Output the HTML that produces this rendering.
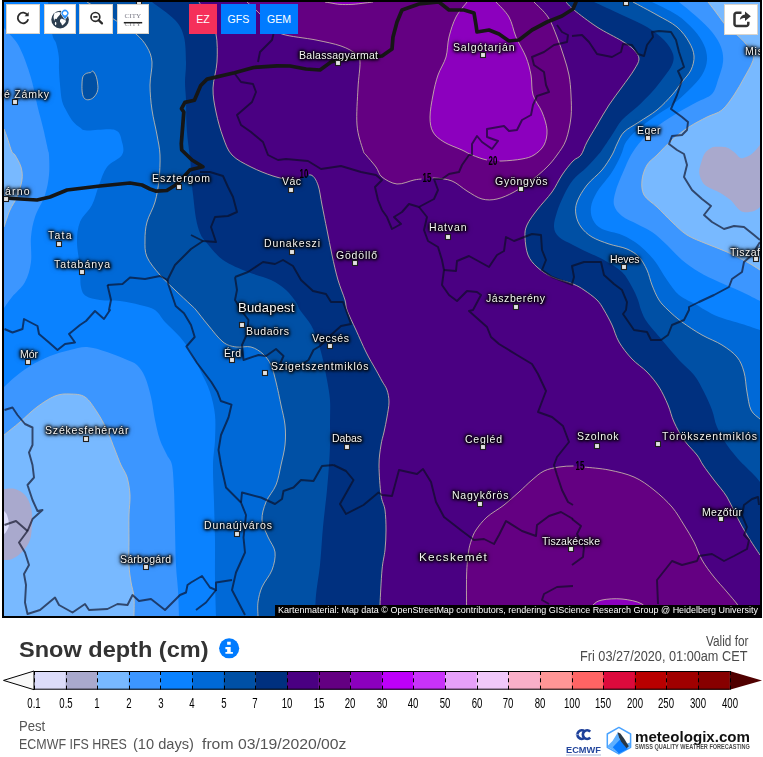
<!DOCTYPE html>
<html><head><meta charset="utf-8"><title>Snow depth</title>
<style>
html,body{margin:0;padding:0;background:#fff;}
body{width:763px;height:757px;position:relative;overflow:hidden;font-family:"Liberation Sans",sans-serif;}
#map{position:absolute;left:0;top:0;}
.lb{position:absolute;will-change:transform;color:#f4f4f4;white-space:nowrap;line-height:1;font-family:"Liberation Sans",sans-serif;
 text-shadow:0 0 2px #000,0 0 3px #000,0 0 3px #000,0 0 4px #000,1px 1px 3px #000,0 0 5px #000,0 0 6px rgba(0,0,0,.7);}
.btn{position:absolute;top:4px;height:30px;background:#fff;box-sizing:border-box;border:1px solid #d9d4cc;}
.mb{position:absolute;top:4px;height:30px;color:#fff;font-size:10.6px;line-height:30.5px;text-align:center;}
.ll{position:absolute;top:695.3px;width:40px;text-align:center;font-size:14.7px;color:#000;transform:scaleX(.655);line-height:16px;}
.cl{position:absolute;width:20px;text-align:center;font-size:12.3px;line-height:13px;color:#000;transform:scaleX(.64);font-weight:bold;}
.f{position:absolute;white-space:nowrap;line-height:1;transform-origin:0 0;}
.t{position:absolute;white-space:nowrap;color:#4a4a4a;font-size:13.5px;line-height:16px;}
#attr{position:absolute;left:275px;top:605px;width:485px;height:11px;background:#000;color:#fff;font-size:9.3px;line-height:11px;white-space:nowrap;overflow:hidden;}
#attr span{display:inline-block;transform-origin:0 50%;padding-left:3px;}
</style></head><body>
<svg id="map" width="763" height="757" viewBox="0 0 763 757">
<defs><mask id="lm" maskUnits="userSpaceOnUse" x="0" y="0" width="763" height="620"><rect x="0" y="0" width="763" height="620" fill="#fff"/><rect x="298" y="168" width="11" height="12" fill="#000"/><rect x="421.5" y="172" width="11" height="12" fill="#000"/><rect x="487" y="155" width="12.5" height="12" fill="#000"/><rect x="573.5" y="460" width="11.5" height="12" fill="#000"/></mask><clipPath id="cp"><rect x="4" y="2" width="756" height="614"/></clipPath></defs>
<rect x="2" y="0" width="760" height="618" fill="#000"/>
<g clip-path="url(#cp)">
<rect x="4" y="2" width="756" height="614" fill="#4a0082"/>
<path d="M199.0 2.0C200.5 4.5 205.2 11.7 208.0 17.0C210.8 22.3 214.5 26.5 216.0 34.0C217.5 41.5 217.5 53.0 217.0 62.0C216.5 71.0 213.2 79.7 213.0 88.0C212.8 96.3 214.3 103.8 216.0 112.0C217.7 120.2 220.3 129.8 223.0 137.0C225.7 144.2 227.3 150.0 232.0 155.0C236.7 160.0 244.2 163.5 251.0 167.0C257.8 170.5 266.3 173.8 273.0 176.0C279.7 178.2 286.5 179.5 291.0 180.0C295.5 180.5 296.7 179.8 300.0 179.0C303.3 178.2 308.0 174.0 311.0 175.0C314.0 176.0 316.2 180.0 318.0 185.0C319.8 190.0 320.5 197.5 322.0 205.0C323.5 212.5 325.3 221.7 327.0 230.0C328.7 238.3 330.2 246.7 332.0 255.0C333.8 263.3 335.8 272.5 338.0 280.0C340.2 287.5 343.5 295.0 345.0 300.0C346.5 305.0 345.2 305.0 347.0 310.0C348.8 315.0 352.8 323.0 356.0 330.0C359.2 337.0 362.7 345.3 366.0 352.0C369.3 358.7 373.3 365.2 376.0 370.0C378.7 374.8 380.2 377.7 382.0 381.0C383.8 384.3 385.8 386.5 387.0 390.0C388.2 393.5 389.0 397.5 389.0 402.0C389.0 406.5 387.8 412.0 387.0 417.0C386.2 422.0 385.0 427.3 384.0 432.0C383.0 436.7 381.8 439.5 381.0 445.0C380.2 450.5 379.0 456.7 379.0 465.0C379.0 473.3 380.0 487.5 381.0 495.0C382.0 502.5 384.2 504.2 385.0 510.0C385.8 515.8 386.0 523.3 386.0 530.0C386.0 536.7 385.7 543.3 385.0 550.0C384.3 556.7 382.8 560.8 382.0 570.0C381.2 579.2 380.3 597.3 380.0 605.0C379.7 612.7 380.0 614.2 380.0 616.0L4.0 616.0L4.0 2.0Z" fill="#00307f"/>
<path d="M152.0 2.0C155.8 5.0 169.7 14.2 175.0 20.0C180.3 25.8 182.2 30.0 184.0 37.0C185.8 44.0 185.8 54.5 186.0 62.0C186.2 69.5 185.0 75.7 185.0 82.0C185.0 88.3 185.8 92.8 186.0 100.0C186.2 107.2 186.1 117.3 186.5 125.0C186.9 132.7 187.8 140.0 188.5 146.0C189.2 152.0 189.9 155.7 190.4 161.0C190.9 166.3 190.8 172.2 191.3 178.0C191.8 183.8 192.4 189.3 193.2 196.0C194.0 202.7 194.8 211.8 195.9 218.0C197.0 224.2 198.3 229.0 200.0 233.0C201.7 237.0 202.2 237.5 206.0 242.0C209.8 246.5 216.0 255.0 223.0 260.0C230.0 265.0 240.0 268.7 248.0 272.0C256.0 275.3 264.7 277.0 271.0 280.0C277.3 283.0 281.8 286.3 286.0 290.0C290.2 293.7 293.7 298.7 296.0 302.0C298.3 305.3 297.5 306.2 300.0 310.0C302.5 313.8 308.0 319.7 311.0 325.0C314.0 330.3 316.0 336.2 318.0 342.0C320.0 347.8 321.5 353.7 323.0 360.0C324.5 366.3 325.8 373.3 327.0 380.0C328.2 386.7 329.5 393.0 330.0 400.0C330.5 407.0 330.0 414.5 330.0 422.0C330.0 429.5 330.2 437.8 330.0 445.0C329.8 452.2 329.5 457.5 329.0 465.0C328.5 472.5 328.0 479.7 327.0 490.0C326.0 500.3 324.2 514.5 323.0 527.0C321.8 539.5 321.2 553.7 320.0 565.0C318.8 576.3 316.8 586.5 316.0 595.0C315.2 603.5 315.2 612.5 315.0 616.0L4.0 616.0L4.0 2.0Z" fill="#0050a5"/>
<path d="M87.0 2.0C89.2 3.3 95.3 7.0 100.0 10.0C104.7 13.0 109.0 16.0 115.0 20.0C121.0 24.0 130.7 29.5 136.0 34.0C141.3 38.5 144.3 42.3 147.0 47.0C149.7 51.7 151.5 55.7 152.0 62.0C152.5 68.3 150.0 77.0 150.0 85.0C150.0 93.0 150.8 101.7 152.0 110.0C153.2 118.3 155.7 127.5 157.0 135.0C158.3 142.5 159.7 147.5 160.0 155.0C160.3 162.5 159.8 172.2 159.0 180.0C158.2 187.8 157.0 195.0 155.0 202.0C153.0 209.0 148.7 215.7 147.0 222.0C145.3 228.3 145.0 234.2 145.0 240.0C145.0 245.8 144.5 251.2 147.0 257.0C149.5 262.8 155.3 269.5 160.0 275.0C164.7 280.5 169.8 285.0 175.0 290.0C180.2 295.0 187.5 301.7 191.0 305.0C194.5 308.3 193.2 306.7 196.0 310.0C198.8 313.3 203.5 319.7 208.0 325.0C212.5 330.3 218.3 338.3 223.0 342.0C227.7 345.7 231.3 346.2 236.0 347.0C240.7 347.8 246.5 345.8 251.0 347.0C255.5 348.2 259.7 351.0 263.0 354.0C266.3 357.0 268.8 360.3 271.0 365.0C273.2 369.7 274.3 375.3 276.0 382.0C277.7 388.7 279.5 397.8 281.0 405.0C282.5 412.2 284.3 418.3 285.0 425.0C285.7 431.7 285.7 438.3 285.0 445.0C284.3 451.7 282.5 458.3 281.0 465.0C279.5 471.7 278.5 478.8 276.0 485.0C273.5 491.2 268.3 496.2 266.0 502.0C263.7 507.8 261.7 514.2 262.0 520.0C262.3 525.8 265.8 531.7 268.0 537.0C270.2 542.3 274.3 546.5 275.0 552.0C275.7 557.5 274.2 564.2 272.0 570.0C269.8 575.8 264.3 581.7 262.0 587.0C259.7 592.3 258.7 597.2 258.0 602.0C257.3 606.8 258.0 613.7 258.0 616.0L4.0 616.0L4.0 2.0Z" fill="#0069d7"/>
<path d="M48.0 2.0C48.7 7.3 50.9 27.1 52.2 34.0C53.6 40.9 55.0 39.5 56.1 43.2C57.2 46.9 58.3 52.0 58.8 56.4C59.3 60.8 58.8 64.8 59.0 69.6C59.2 74.4 59.6 80.2 60.1 85.5C60.6 90.8 61.0 97.0 62.1 101.3C63.2 105.5 64.7 107.6 66.5 111.0C68.3 114.4 70.8 118.8 73.0 121.5C75.2 124.2 77.7 126.0 80.0 127.5C82.3 129.0 81.2 130.1 87.0 130.5C92.8 130.9 109.2 128.1 115.0 130.0C120.8 131.9 120.8 137.8 122.0 142.0C123.2 146.2 124.5 150.8 122.0 155.0C119.5 159.2 110.8 162.0 107.0 167.0C103.2 172.0 101.5 178.7 99.0 185.0C96.5 191.3 95.2 198.8 92.0 205.0C88.8 211.2 82.5 215.8 80.0 222.0C77.5 228.2 77.0 234.5 77.0 242.0C77.0 249.5 79.3 259.5 80.0 267.0C80.7 274.5 80.0 282.2 81.0 287.0C82.0 291.8 82.8 293.8 86.0 296.0C89.2 298.2 94.3 299.2 100.0 300.0C105.7 300.8 113.3 300.2 120.0 301.0C126.7 301.8 134.2 303.5 140.0 305.0C145.8 306.5 150.8 307.2 155.0 310.0C159.2 312.8 160.8 317.5 165.0 322.0C169.2 326.5 175.7 332.0 180.0 337.0C184.3 342.0 187.5 346.2 191.0 352.0C194.5 357.8 197.8 365.3 201.0 372.0C204.2 378.7 207.7 384.8 210.0 392.0C212.3 399.2 214.2 407.0 215.0 415.0C215.8 423.0 215.3 431.7 215.0 440.0C214.7 448.3 213.2 454.7 213.0 465.0C212.8 475.3 213.7 489.5 214.0 502.0C214.3 514.5 214.8 527.5 215.0 540.0C215.2 552.5 214.8 564.3 215.0 577.0C215.2 589.7 215.8 609.5 216.0 616.0L4.0 616.0L4.0 2.0Z" fill="#0a82ff"/>
<path d="M4.0 28.0C5.1 29.2 8.4 32.8 10.6 35.3C12.8 37.8 15.2 40.1 17.2 43.2C19.2 46.3 20.6 49.4 22.5 53.8C24.4 58.2 26.6 64.3 28.4 69.6C30.1 74.9 31.6 79.8 33.0 85.5C34.4 91.2 35.7 98.3 37.0 104.0C38.3 109.7 39.9 115.5 41.0 119.8C42.1 124.1 42.4 125.0 43.6 130.0C44.8 135.0 47.1 145.8 48.0 150.0C48.9 154.2 48.8 150.8 49.0 155.0C49.2 159.2 49.7 168.3 49.0 175.0C48.3 181.7 47.3 188.0 45.0 195.0C42.7 202.0 37.3 210.0 35.0 217.0C32.7 224.0 31.7 229.5 31.0 237.0C30.3 244.5 32.0 254.5 31.0 262.0C30.0 269.5 28.2 276.2 25.0 282.0C21.8 287.8 15.5 292.7 12.0 297.0C8.5 301.3 5.3 306.2 4.0 308.0Z" fill="#3c96ff"/>
<path d="M4.0 387.0C5.8 385.3 10.7 380.5 15.0 377.0C19.3 373.5 24.2 369.5 30.0 366.0C35.8 362.5 43.3 358.7 50.0 356.0C56.7 353.3 63.8 351.5 70.0 350.0C76.2 348.5 80.8 346.7 87.0 347.0C93.2 347.3 100.7 350.0 107.0 352.0C113.3 354.0 120.0 356.8 125.0 359.0C130.0 361.2 133.7 362.0 137.0 365.0C140.3 368.0 142.7 371.7 145.0 377.0C147.3 382.3 149.3 389.8 151.0 397.0C152.7 404.2 153.5 412.8 155.0 420.0C156.5 427.2 158.0 434.2 160.0 440.0C162.0 445.8 165.0 450.8 167.0 455.0C169.0 459.2 170.8 459.2 172.0 465.0C173.2 470.8 173.5 479.7 174.0 490.0C174.5 500.3 174.7 514.5 175.0 527.0C175.3 539.5 175.5 554.5 176.0 565.0C176.5 575.5 177.5 581.5 178.0 590.0C178.5 598.5 178.8 611.7 179.0 616.0L4.0 616.0Z" fill="#3c96ff"/>
<path d="M4.0 129.0C4.7 130.8 6.7 136.2 8.0 140.0C9.3 143.8 10.8 149.5 12.0 152.0C13.2 154.5 13.5 152.5 15.0 155.0C16.5 157.5 19.8 162.8 21.0 167.0C22.2 171.2 22.7 175.0 22.0 180.0C21.3 185.0 19.0 192.0 17.0 197.0C15.0 202.0 12.2 205.0 10.0 210.0C7.8 215.0 5.0 224.2 4.0 227.0Z" fill="#78b9ff"/>
<path d="M4.0 435.0C6.7 432.8 14.5 426.7 20.0 422.0C25.5 417.3 31.2 411.3 37.0 407.0C42.8 402.7 49.5 398.2 55.0 396.0C60.5 393.8 65.0 393.8 70.0 394.0C75.0 394.2 80.5 394.0 85.0 397.0C89.5 400.0 93.3 406.5 97.0 412.0C100.7 417.5 104.0 423.7 107.0 430.0C110.0 436.3 112.7 444.2 115.0 450.0C117.3 455.8 119.0 460.5 121.0 465.0C123.0 469.5 125.5 472.0 127.0 477.0C128.5 482.0 129.7 488.7 130.0 495.0C130.3 501.3 129.2 507.5 129.0 515.0C128.8 522.5 129.0 531.7 129.0 540.0C129.0 548.3 128.7 558.0 129.0 565.0C129.3 572.0 130.2 576.7 131.0 582.0C131.8 587.3 133.5 591.3 134.0 597.0C134.5 602.7 134.0 612.8 134.0 616.0L4.0 616.0Z" fill="#78b9ff"/>
<path d="M4.0 489.0C5.8 489.0 11.5 488.0 15.0 489.0C18.5 490.0 22.3 492.0 25.0 495.0C27.7 498.0 29.8 502.5 31.0 507.0C32.2 511.5 32.2 516.5 32.0 522.0C31.8 527.5 31.7 535.0 30.0 540.0C28.3 545.0 25.0 548.8 22.0 552.0C19.0 555.2 15.0 557.7 12.0 559.0C9.0 560.3 5.3 559.8 4.0 560.0Z" fill="#a9a9cd"/>
<path d="M4.0 511.0C4.5 511.7 6.2 512.7 7.0 515.0C7.8 517.3 9.2 522.2 9.0 525.0C8.8 527.8 6.8 530.5 6.0 532.0C5.2 533.5 4.3 533.7 4.0 534.0Z" fill="#dcdcfa"/>
<path d="M93.0 71.2C93.9 71.8 95.2 73.9 96.0 76.0C96.8 78.1 97.5 81.5 97.7 84.0C98.0 86.5 98.1 88.8 97.5 91.0C96.9 93.2 95.4 95.5 94.0 97.0C92.6 98.5 90.6 99.5 89.0 99.7C87.4 100.0 85.6 99.6 84.5 98.5C83.4 97.4 82.7 95.4 82.3 93.0C81.9 90.6 81.9 86.8 82.0 84.0C82.1 81.2 82.2 78.3 83.0 76.5C83.8 74.7 85.2 74.0 86.5 73.3C87.8 72.6 89.4 72.9 90.5 72.6C91.6 72.2 92.1 70.6 93.0 71.2Z" fill="#0050a5"/>
<path d="M566.0 2.0C567.3 3.3 568.8 5.8 574.0 10.0C579.2 14.2 589.0 21.8 597.0 27.0C605.0 32.2 615.8 37.2 622.0 41.0C628.2 44.8 631.2 47.0 634.0 50.0C636.8 53.0 639.0 55.7 639.0 59.0C639.0 62.3 636.8 65.3 634.0 70.0C631.2 74.7 626.2 81.2 622.0 87.0C617.8 92.8 613.2 98.7 609.0 105.0C604.8 111.3 600.7 118.8 597.0 125.0C593.3 131.2 589.7 137.0 587.0 142.0C584.3 147.0 583.3 151.8 581.0 155.0C578.7 158.2 576.2 157.7 573.0 161.0C569.8 164.3 565.5 169.8 562.0 175.0C558.5 180.2 556.2 186.2 552.0 192.0C547.8 197.8 541.2 204.5 537.0 210.0C532.8 215.5 529.0 220.5 527.0 225.0C525.0 229.5 524.8 232.0 525.0 237.0C525.2 242.0 526.0 250.0 528.0 255.0C530.0 260.0 533.0 263.3 537.0 267.0C541.0 270.7 546.0 274.2 552.0 277.0C558.0 279.8 567.7 281.8 573.0 284.0C578.3 286.2 580.0 287.3 584.0 290.0C588.0 292.7 593.7 296.7 597.0 300.0C600.3 303.3 601.5 305.8 604.0 310.0C606.5 314.2 609.5 319.7 612.0 325.0C614.5 330.3 615.7 336.3 619.0 342.0C622.3 347.7 627.3 354.0 632.0 359.0C636.7 364.0 642.5 367.3 647.0 372.0C651.5 376.7 655.5 381.5 659.0 387.0C662.5 392.5 665.5 399.2 668.0 405.0C670.5 410.8 671.3 416.2 674.0 422.0C676.7 427.8 680.2 434.5 684.0 440.0C687.8 445.5 693.8 450.8 697.0 455.0C700.2 459.2 700.2 460.8 703.0 465.0C705.8 469.2 710.0 474.7 714.0 480.0C718.0 485.3 723.2 490.8 727.0 497.0C730.8 503.2 733.7 510.7 737.0 517.0C740.3 523.3 743.2 528.7 747.0 535.0C750.8 541.3 757.8 551.7 760.0 555.0L760.0 2.0Z" fill="#00307f"/>
<path d="M594.0 2.0C598.7 4.2 613.2 10.8 622.0 15.0C630.8 19.2 640.0 22.8 647.0 27.0C654.0 31.2 659.7 35.5 664.0 40.0C668.3 44.5 671.7 49.8 673.0 54.0C674.3 58.2 673.5 61.2 672.0 65.0C670.5 68.8 667.3 72.5 664.0 77.0C660.7 81.5 656.5 87.0 652.0 92.0C647.5 97.0 642.0 102.3 637.0 107.0C632.0 111.7 626.2 115.3 622.0 120.0C617.8 124.7 615.3 130.0 612.0 135.0C608.7 140.0 604.3 146.7 602.0 150.0C599.7 153.3 600.5 152.2 598.0 155.0C595.5 157.8 591.2 162.8 587.0 167.0C582.8 171.2 576.8 175.3 573.0 180.0C569.2 184.7 566.7 189.7 564.0 195.0C561.3 200.3 558.7 206.7 557.0 212.0C555.3 217.3 553.7 222.8 554.0 227.0C554.3 231.2 555.8 234.0 559.0 237.0C562.2 240.0 568.3 242.5 573.0 245.0C577.7 247.5 581.8 249.5 587.0 252.0C592.2 254.5 598.2 256.7 604.0 260.0C609.8 263.3 617.3 267.5 622.0 272.0C626.7 276.5 629.3 282.3 632.0 287.0C634.7 291.7 636.5 296.2 638.0 300.0C639.5 303.8 639.5 306.3 641.0 310.0C642.5 313.7 643.5 317.0 647.0 322.0C650.5 327.0 656.7 333.7 662.0 340.0C667.3 346.3 673.7 354.2 679.0 360.0C684.3 365.8 689.8 369.7 694.0 375.0C698.2 380.3 701.0 386.2 704.0 392.0C707.0 397.8 709.8 404.2 712.0 410.0C714.2 415.8 714.5 421.2 717.0 427.0C719.5 432.8 723.3 439.5 727.0 445.0C730.7 450.5 736.2 456.7 739.0 460.0C741.8 463.3 741.5 462.5 744.0 465.0C746.5 467.5 751.3 472.2 754.0 475.0C756.7 477.8 759.0 480.8 760.0 482.0L760.0 2.0Z" fill="#0050a5"/>
<path d="M633.0 2.0C637.0 4.2 649.7 10.8 657.0 15.0C664.3 19.2 671.7 22.5 677.0 27.0C682.3 31.5 686.2 37.2 689.0 42.0C691.8 46.8 693.7 51.3 694.0 56.0C694.3 60.7 693.0 65.7 691.0 70.0C689.0 74.3 685.2 77.8 682.0 82.0C678.8 86.2 676.2 90.3 672.0 95.0C667.8 99.7 662.5 105.5 657.0 110.0C651.5 114.5 644.5 118.3 639.0 122.0C633.5 125.7 627.7 128.3 624.0 132.0C620.3 135.7 619.0 140.2 617.0 144.0C615.0 147.8 614.5 150.7 612.0 155.0C609.5 159.3 606.2 165.0 602.0 170.0C597.8 175.0 591.2 179.7 587.0 185.0C582.8 190.3 578.8 197.0 577.0 202.0C575.2 207.0 575.3 210.8 576.0 215.0C576.7 219.2 578.3 223.3 581.0 227.0C583.7 230.7 587.3 234.2 592.0 237.0C596.7 239.8 603.2 242.0 609.0 244.0C614.8 246.0 622.0 246.8 627.0 249.0C632.0 251.2 635.7 253.5 639.0 257.0C642.3 260.5 644.8 265.3 647.0 270.0C649.2 274.7 650.0 280.0 652.0 285.0C654.0 290.0 656.3 295.8 659.0 300.0C661.7 304.2 664.2 306.3 668.0 310.0C671.8 313.7 676.3 317.8 682.0 322.0C687.7 326.2 695.3 331.2 702.0 335.0C708.7 338.8 716.2 341.3 722.0 345.0C727.8 348.7 733.3 352.5 737.0 357.0C740.7 361.5 742.3 366.2 744.0 372.0C745.7 377.8 745.8 385.7 747.0 392.0C748.2 398.3 748.8 405.5 751.0 410.0C753.2 414.5 758.5 417.5 760.0 419.0L760.0 2.0Z" fill="#0069d7"/>
<path d="M652.0 2.0C656.2 4.2 670.0 10.3 677.0 15.0C684.0 19.7 689.5 25.0 694.0 30.0C698.5 35.0 701.8 40.0 704.0 45.0C706.2 50.0 707.3 55.0 707.0 60.0C706.7 65.0 705.0 70.0 702.0 75.0C699.0 80.0 694.0 85.0 689.0 90.0C684.0 95.0 677.8 100.5 672.0 105.0C666.2 109.5 659.8 112.8 654.0 117.0C648.2 121.2 641.7 125.8 637.0 130.0C632.3 134.2 628.7 137.8 626.0 142.0C623.3 146.2 623.3 150.0 621.0 155.0C618.7 160.0 616.0 165.8 612.0 172.0C608.0 178.2 600.5 186.2 597.0 192.0C593.5 197.8 591.7 202.3 591.0 207.0C590.3 211.7 591.2 216.3 593.0 220.0C594.8 223.7 597.2 226.5 602.0 229.0C606.8 231.5 615.8 232.3 622.0 235.0C628.2 237.7 633.7 240.8 639.0 245.0C644.3 249.2 649.3 254.2 654.0 260.0C658.7 265.8 662.8 274.2 667.0 280.0C671.2 285.8 674.0 290.8 679.0 295.0C684.0 299.2 692.7 302.5 697.0 305.0C701.3 307.5 701.3 308.0 705.0 310.0C708.7 312.0 712.8 314.7 719.0 317.0C725.2 319.3 735.2 321.8 742.0 324.0C748.8 326.2 757.0 329.0 760.0 330.0L760.0 2.0Z" fill="#0a82ff"/>
<path d="M679.0 2.0C682.0 4.5 691.5 12.0 697.0 17.0C702.5 22.0 708.0 27.0 712.0 32.0C716.0 37.0 719.2 42.0 721.0 47.0C722.8 52.0 723.5 56.5 723.0 62.0C722.5 67.5 719.8 74.7 718.0 80.0C716.2 85.3 715.5 90.3 712.0 94.0C708.5 97.7 702.5 99.0 697.0 102.0C691.5 105.0 685.3 108.2 679.0 112.0C672.7 115.8 665.2 120.3 659.0 125.0C652.8 129.7 646.7 135.0 642.0 140.0C637.3 145.0 634.0 150.0 631.0 155.0C628.0 160.0 626.5 164.2 624.0 170.0C621.5 175.8 617.7 184.2 616.0 190.0C614.3 195.8 613.0 200.7 614.0 205.0C615.0 209.3 618.2 212.8 622.0 216.0C625.8 219.2 632.0 221.3 637.0 224.0C642.0 226.7 647.0 228.5 652.0 232.0C657.0 235.5 662.0 240.3 667.0 245.0C672.0 249.7 676.7 255.5 682.0 260.0C687.3 264.5 692.8 268.3 699.0 272.0C705.2 275.7 711.8 278.7 719.0 282.0C726.2 285.3 735.2 288.8 742.0 292.0C748.8 295.2 757.0 299.5 760.0 301.0L760.0 2.0Z" fill="#3c96ff"/>
<path d="M708.0 2.0C709.2 3.5 712.5 7.7 715.0 11.0C717.5 14.3 720.5 18.8 723.0 22.0C725.5 25.2 727.7 27.8 730.0 30.0C732.3 32.2 734.3 32.7 737.0 35.0C739.7 37.3 743.3 40.7 746.0 44.0C748.7 47.3 752.0 51.8 753.0 55.0C754.0 58.2 753.5 59.2 752.0 63.0C750.5 66.8 747.0 72.7 744.0 78.0C741.0 83.3 737.7 89.7 734.0 95.0C730.3 100.3 726.5 106.3 722.0 110.0C717.5 113.7 712.5 114.2 707.0 117.0C701.5 119.8 694.8 123.2 689.0 127.0C683.2 130.8 677.3 135.3 672.0 140.0C666.7 144.7 661.2 150.8 657.0 155.0C652.8 159.2 649.5 160.8 647.0 165.0C644.5 169.2 642.5 175.0 642.0 180.0C641.5 185.0 641.5 190.5 644.0 195.0C646.5 199.5 652.3 202.5 657.0 207.0C661.7 211.5 667.0 217.3 672.0 222.0C677.0 226.7 681.2 231.3 687.0 235.0C692.8 238.7 700.3 241.2 707.0 244.0C713.7 246.8 720.3 249.0 727.0 252.0C733.7 255.0 741.5 259.0 747.0 262.0C752.5 265.0 757.8 268.7 760.0 270.0L760.0 2.0Z" fill="#78b9ff"/>
<path d="M760.0 143.0C759.9 143.4 760.8 143.6 759.5 145.4C758.2 147.2 754.2 151.9 752.0 153.8C749.8 155.7 747.9 156.3 746.0 157.0C744.1 157.7 742.4 158.8 740.4 158.0C738.4 157.2 736.3 153.8 734.0 152.0C731.7 150.2 729.4 148.4 726.7 147.5C724.0 146.6 720.5 146.8 718.0 146.8C715.5 146.8 714.1 146.5 711.9 147.5C709.7 148.5 706.8 150.5 705.0 153.0C703.2 155.5 702.3 159.0 701.3 162.3C700.3 165.6 698.9 169.3 699.2 172.8C699.6 176.3 701.3 180.7 703.4 183.4C705.5 186.1 709.2 187.4 712.0 189.0C714.8 190.6 717.1 191.0 720.3 192.9C723.4 194.8 728.1 197.8 730.9 200.3C733.7 202.8 735.1 205.8 737.2 207.7C739.3 209.6 740.8 211.4 743.6 212.0C746.4 212.6 751.4 211.9 754.2 211.0C757.0 210.1 759.5 207.4 760.5 206.7Z" fill="#a9a9cd"/>
<path d="M247.0 2.0C248.8 3.7 254.2 8.3 258.0 12.0C261.8 15.7 266.0 20.3 270.0 24.0C274.0 27.7 274.3 31.3 282.0 34.0C289.7 36.7 306.2 38.0 316.0 40.0C325.8 42.0 334.3 43.7 341.0 46.0C347.7 48.3 352.8 51.3 356.0 54.0C359.2 56.7 359.7 56.3 360.0 62.0C360.3 67.7 358.5 77.5 358.0 88.0C357.5 98.5 356.2 114.7 357.0 125.0C357.8 135.3 361.5 145.0 363.0 150.0C364.5 155.0 363.8 152.2 366.0 155.0C368.2 157.8 373.3 163.3 376.0 167.0C378.7 170.7 378.5 174.2 382.0 177.0C385.5 179.8 391.7 183.5 397.0 184.0C402.3 184.5 409.8 180.8 414.0 180.0C418.2 179.2 418.7 179.3 422.0 179.0C425.3 178.7 429.0 177.7 434.0 178.0C439.0 178.3 446.5 178.8 452.0 181.0C457.5 183.2 462.0 188.0 467.0 191.0C472.0 194.0 477.0 197.7 482.0 199.0C487.0 200.3 491.7 200.2 497.0 199.0C502.3 197.8 508.2 195.2 514.0 192.0C519.8 188.8 526.5 184.2 532.0 180.0C537.5 175.8 542.8 171.2 547.0 167.0C551.2 162.8 553.8 159.5 557.0 155.0C560.2 150.5 563.7 146.3 566.0 140.0C568.3 133.7 570.2 124.5 571.0 117.0C571.8 109.5 571.3 102.0 571.0 95.0C570.7 88.0 570.2 81.3 569.0 75.0C567.8 68.7 566.0 63.3 564.0 57.0C562.0 50.7 559.7 43.7 557.0 37.0C554.3 30.3 551.8 22.8 548.0 17.0C544.2 11.2 536.3 4.5 534.0 2.0Z" fill="#640082"/>
<path d="M467.0 2.0C465.2 4.5 459.0 11.2 456.0 17.0C453.0 22.8 450.7 30.3 449.0 37.0C447.3 43.7 447.8 50.7 446.0 57.0C444.2 63.3 440.2 68.7 438.0 75.0C435.8 81.3 434.3 88.0 433.0 95.0C431.7 102.0 430.0 110.8 430.0 117.0C430.0 123.2 430.7 127.8 433.0 132.0C435.3 136.2 439.2 139.0 444.0 142.0C448.8 145.0 457.3 147.8 462.0 150.0C466.7 152.2 467.8 153.3 472.0 155.0C476.2 156.7 482.0 159.0 487.0 160.0C492.0 161.0 496.2 161.2 502.0 161.0C507.8 160.8 516.7 160.0 522.0 159.0C527.3 158.0 530.3 157.3 534.0 155.0C537.7 152.7 541.8 149.2 544.0 145.0C546.2 140.8 547.3 135.5 547.0 130.0C546.7 124.5 544.3 117.8 542.0 112.0C539.7 106.2 534.8 101.2 533.0 95.0C531.2 88.8 532.2 81.3 531.0 75.0C529.8 68.7 528.5 63.3 526.0 57.0C523.5 50.7 518.8 43.7 516.0 37.0C513.2 30.3 512.3 22.8 509.0 17.0C505.7 11.2 498.2 4.5 496.0 2.0Z" fill="#8c00be"/>
<path d="M466.6 616.0C466.6 609.2 466.3 585.7 466.6 575.0C466.9 564.3 467.7 557.8 468.5 552.0C469.3 546.2 470.2 543.7 471.5 540.0C472.8 536.3 473.4 533.8 476.0 530.0C478.6 526.2 482.3 521.2 487.0 517.0C491.7 512.8 498.7 509.2 504.0 505.0C509.3 500.8 514.3 496.2 519.0 492.0C523.7 487.8 527.8 483.5 532.0 480.0C536.2 476.5 539.5 473.2 544.0 471.0C548.5 468.8 554.2 467.8 559.0 467.0C563.8 466.2 568.8 466.0 573.0 466.0C577.2 466.0 578.0 466.3 584.0 467.0C590.0 467.7 600.7 468.3 609.0 470.0C617.3 471.7 626.5 473.7 634.0 477.0C641.5 480.3 647.7 485.0 654.0 490.0C660.3 495.0 667.0 501.2 672.0 507.0C677.0 512.8 680.3 519.2 684.0 525.0C687.7 530.8 691.0 536.2 694.0 542.0C697.0 547.8 698.7 554.2 702.0 560.0C705.3 565.8 709.8 571.7 714.0 577.0C718.2 582.3 723.2 587.5 727.0 592.0C730.8 596.5 734.0 600.0 737.0 604.0C740.0 608.0 743.7 614.0 745.0 616.0Z" fill="#640082"/>
<path d="M585.0 616.0C586.3 614.2 590.2 607.7 593.0 605.0C595.8 602.3 597.2 601.0 602.0 600.0C606.8 599.0 615.3 598.3 622.0 599.0C628.7 599.7 637.3 601.2 642.0 604.0C646.7 606.8 648.7 614.0 650.0 616.0Z" fill="#8c00be"/>
<path d="M325.0 2.0C326.0 2.2 328.5 2.6 331.0 3.0C333.5 3.4 336.5 4.2 340.0 4.4C343.5 4.6 347.8 4.6 352.0 4.4C356.2 4.2 361.5 3.4 365.0 3.0C368.5 2.6 371.7 2.2 373.0 2.0Z" fill="#8c00be"/>
<g fill="none" stroke="#d0c2ac" stroke-width="0.95" stroke-opacity=".85" mask="url(#lm)"><path d="M199.0 2.0C200.5 4.5 205.2 11.7 208.0 17.0C210.8 22.3 214.5 26.5 216.0 34.0C217.5 41.5 217.5 53.0 217.0 62.0C216.5 71.0 213.2 79.7 213.0 88.0C212.8 96.3 214.3 103.8 216.0 112.0C217.7 120.2 220.3 129.8 223.0 137.0C225.7 144.2 227.3 150.0 232.0 155.0C236.7 160.0 244.2 163.5 251.0 167.0C257.8 170.5 266.3 173.8 273.0 176.0C279.7 178.2 286.5 179.5 291.0 180.0C295.5 180.5 296.7 179.8 300.0 179.0C303.3 178.2 308.0 174.0 311.0 175.0C314.0 176.0 316.2 180.0 318.0 185.0C319.8 190.0 320.5 197.5 322.0 205.0C323.5 212.5 325.3 221.7 327.0 230.0C328.7 238.3 330.2 246.7 332.0 255.0C333.8 263.3 335.8 272.5 338.0 280.0C340.2 287.5 343.5 295.0 345.0 300.0C346.5 305.0 345.2 305.0 347.0 310.0C348.8 315.0 352.8 323.0 356.0 330.0C359.2 337.0 362.7 345.3 366.0 352.0C369.3 358.7 373.3 365.2 376.0 370.0C378.7 374.8 380.2 377.7 382.0 381.0C383.8 384.3 385.8 386.5 387.0 390.0C388.2 393.5 389.0 397.5 389.0 402.0C389.0 406.5 387.8 412.0 387.0 417.0C386.2 422.0 385.0 427.3 384.0 432.0C383.0 436.7 381.8 439.5 381.0 445.0C380.2 450.5 379.0 456.7 379.0 465.0C379.0 473.3 380.0 487.5 381.0 495.0C382.0 502.5 384.2 504.2 385.0 510.0C385.8 515.8 386.0 523.3 386.0 530.0C386.0 536.7 385.7 543.3 385.0 550.0C384.3 556.7 382.8 560.8 382.0 570.0C381.2 579.2 380.3 597.3 380.0 605.0C379.7 612.7 380.0 614.2 380.0 616.0"/><path d="M87.0 2.0C89.2 3.3 95.3 7.0 100.0 10.0C104.7 13.0 109.0 16.0 115.0 20.0C121.0 24.0 130.7 29.5 136.0 34.0C141.3 38.5 144.3 42.3 147.0 47.0C149.7 51.7 151.5 55.7 152.0 62.0C152.5 68.3 150.0 77.0 150.0 85.0C150.0 93.0 150.8 101.7 152.0 110.0C153.2 118.3 155.7 127.5 157.0 135.0C158.3 142.5 159.7 147.5 160.0 155.0C160.3 162.5 159.8 172.2 159.0 180.0C158.2 187.8 157.0 195.0 155.0 202.0C153.0 209.0 148.7 215.7 147.0 222.0C145.3 228.3 145.0 234.2 145.0 240.0C145.0 245.8 144.5 251.2 147.0 257.0C149.5 262.8 155.3 269.5 160.0 275.0C164.7 280.5 169.8 285.0 175.0 290.0C180.2 295.0 187.5 301.7 191.0 305.0C194.5 308.3 193.2 306.7 196.0 310.0C198.8 313.3 203.5 319.7 208.0 325.0C212.5 330.3 218.3 338.3 223.0 342.0C227.7 345.7 231.3 346.2 236.0 347.0C240.7 347.8 246.5 345.8 251.0 347.0C255.5 348.2 259.7 351.0 263.0 354.0C266.3 357.0 268.8 360.3 271.0 365.0C273.2 369.7 274.3 375.3 276.0 382.0C277.7 388.7 279.5 397.8 281.0 405.0C282.5 412.2 284.3 418.3 285.0 425.0C285.7 431.7 285.7 438.3 285.0 445.0C284.3 451.7 282.5 458.3 281.0 465.0C279.5 471.7 278.5 478.8 276.0 485.0C273.5 491.2 268.3 496.2 266.0 502.0C263.7 507.8 261.7 514.2 262.0 520.0C262.3 525.8 265.8 531.7 268.0 537.0C270.2 542.3 274.3 546.5 275.0 552.0C275.7 557.5 274.2 564.2 272.0 570.0C269.8 575.8 264.3 581.7 262.0 587.0C259.7 592.3 258.7 597.2 258.0 602.0C257.3 606.8 258.0 613.7 258.0 616.0"/><path d="M4.0 129.0C4.7 130.8 6.7 136.2 8.0 140.0C9.3 143.8 10.8 149.5 12.0 152.0C13.2 154.5 13.5 152.5 15.0 155.0C16.5 157.5 19.8 162.8 21.0 167.0C22.2 171.2 22.7 175.0 22.0 180.0C21.3 185.0 19.0 192.0 17.0 197.0C15.0 202.0 12.2 205.0 10.0 210.0C7.8 215.0 5.0 224.2 4.0 227.0"/><path d="M4.0 435.0C6.7 432.8 14.5 426.7 20.0 422.0C25.5 417.3 31.2 411.3 37.0 407.0C42.8 402.7 49.5 398.2 55.0 396.0C60.5 393.8 65.0 393.8 70.0 394.0C75.0 394.2 80.5 394.0 85.0 397.0C89.5 400.0 93.3 406.5 97.0 412.0C100.7 417.5 104.0 423.7 107.0 430.0C110.0 436.3 112.7 444.2 115.0 450.0C117.3 455.8 119.0 460.5 121.0 465.0C123.0 469.5 125.5 472.0 127.0 477.0C128.5 482.0 129.7 488.7 130.0 495.0C130.3 501.3 129.2 507.5 129.0 515.0C128.8 522.5 129.0 531.7 129.0 540.0C129.0 548.3 128.7 558.0 129.0 565.0C129.3 572.0 130.2 576.7 131.0 582.0C131.8 587.3 133.5 591.3 134.0 597.0C134.5 602.7 134.0 612.8 134.0 616.0"/><path d="M566.0 2.0C567.3 3.3 568.8 5.8 574.0 10.0C579.2 14.2 589.0 21.8 597.0 27.0C605.0 32.2 615.8 37.2 622.0 41.0C628.2 44.8 631.2 47.0 634.0 50.0C636.8 53.0 639.0 55.7 639.0 59.0C639.0 62.3 636.8 65.3 634.0 70.0C631.2 74.7 626.2 81.2 622.0 87.0C617.8 92.8 613.2 98.7 609.0 105.0C604.8 111.3 600.7 118.8 597.0 125.0C593.3 131.2 589.7 137.0 587.0 142.0C584.3 147.0 583.3 151.8 581.0 155.0C578.7 158.2 576.2 157.7 573.0 161.0C569.8 164.3 565.5 169.8 562.0 175.0C558.5 180.2 556.2 186.2 552.0 192.0C547.8 197.8 541.2 204.5 537.0 210.0C532.8 215.5 529.0 220.5 527.0 225.0C525.0 229.5 524.8 232.0 525.0 237.0C525.2 242.0 526.0 250.0 528.0 255.0C530.0 260.0 533.0 263.3 537.0 267.0C541.0 270.7 546.0 274.2 552.0 277.0C558.0 279.8 567.7 281.8 573.0 284.0C578.3 286.2 580.0 287.3 584.0 290.0C588.0 292.7 593.7 296.7 597.0 300.0C600.3 303.3 601.5 305.8 604.0 310.0C606.5 314.2 609.5 319.7 612.0 325.0C614.5 330.3 615.7 336.3 619.0 342.0C622.3 347.7 627.3 354.0 632.0 359.0C636.7 364.0 642.5 367.3 647.0 372.0C651.5 376.7 655.5 381.5 659.0 387.0C662.5 392.5 665.5 399.2 668.0 405.0C670.5 410.8 671.3 416.2 674.0 422.0C676.7 427.8 680.2 434.5 684.0 440.0C687.8 445.5 693.8 450.8 697.0 455.0C700.2 459.2 700.2 460.8 703.0 465.0C705.8 469.2 710.0 474.7 714.0 480.0C718.0 485.3 723.2 490.8 727.0 497.0C730.8 503.2 733.7 510.7 737.0 517.0C740.3 523.3 743.2 528.7 747.0 535.0C750.8 541.3 757.8 551.7 760.0 555.0"/><path d="M633.0 2.0C637.0 4.2 649.7 10.8 657.0 15.0C664.3 19.2 671.7 22.5 677.0 27.0C682.3 31.5 686.2 37.2 689.0 42.0C691.8 46.8 693.7 51.3 694.0 56.0C694.3 60.7 693.0 65.7 691.0 70.0C689.0 74.3 685.2 77.8 682.0 82.0C678.8 86.2 676.2 90.3 672.0 95.0C667.8 99.7 662.5 105.5 657.0 110.0C651.5 114.5 644.5 118.3 639.0 122.0C633.5 125.7 627.7 128.3 624.0 132.0C620.3 135.7 619.0 140.2 617.0 144.0C615.0 147.8 614.5 150.7 612.0 155.0C609.5 159.3 606.2 165.0 602.0 170.0C597.8 175.0 591.2 179.7 587.0 185.0C582.8 190.3 578.8 197.0 577.0 202.0C575.2 207.0 575.3 210.8 576.0 215.0C576.7 219.2 578.3 223.3 581.0 227.0C583.7 230.7 587.3 234.2 592.0 237.0C596.7 239.8 603.2 242.0 609.0 244.0C614.8 246.0 622.0 246.8 627.0 249.0C632.0 251.2 635.7 253.5 639.0 257.0C642.3 260.5 644.8 265.3 647.0 270.0C649.2 274.7 650.0 280.0 652.0 285.0C654.0 290.0 656.3 295.8 659.0 300.0C661.7 304.2 664.2 306.3 668.0 310.0C671.8 313.7 676.3 317.8 682.0 322.0C687.7 326.2 695.3 331.2 702.0 335.0C708.7 338.8 716.2 341.3 722.0 345.0C727.8 348.7 733.3 352.5 737.0 357.0C740.7 361.5 742.3 366.2 744.0 372.0C745.7 377.8 745.8 385.7 747.0 392.0C748.2 398.3 748.8 405.5 751.0 410.0C753.2 414.5 758.5 417.5 760.0 419.0"/><path d="M708.0 2.0C709.2 3.5 712.5 7.7 715.0 11.0C717.5 14.3 720.5 18.8 723.0 22.0C725.5 25.2 727.7 27.8 730.0 30.0C732.3 32.2 734.3 32.7 737.0 35.0C739.7 37.3 743.3 40.7 746.0 44.0C748.7 47.3 752.0 51.8 753.0 55.0C754.0 58.2 753.5 59.2 752.0 63.0C750.5 66.8 747.0 72.7 744.0 78.0C741.0 83.3 737.7 89.7 734.0 95.0C730.3 100.3 726.5 106.3 722.0 110.0C717.5 113.7 712.5 114.2 707.0 117.0C701.5 119.8 694.8 123.2 689.0 127.0C683.2 130.8 677.3 135.3 672.0 140.0C666.7 144.7 661.2 150.8 657.0 155.0C652.8 159.2 649.5 160.8 647.0 165.0C644.5 169.2 642.5 175.0 642.0 180.0C641.5 185.0 641.5 190.5 644.0 195.0C646.5 199.5 652.3 202.5 657.0 207.0C661.7 211.5 667.0 217.3 672.0 222.0C677.0 226.7 681.2 231.3 687.0 235.0C692.8 238.7 700.3 241.2 707.0 244.0C713.7 246.8 720.3 249.0 727.0 252.0C733.7 255.0 741.5 259.0 747.0 262.0C752.5 265.0 757.8 268.7 760.0 270.0"/><path d="M247.0 2.0C248.8 3.7 254.2 8.3 258.0 12.0C261.8 15.7 266.0 20.3 270.0 24.0C274.0 27.7 274.3 31.3 282.0 34.0C289.7 36.7 306.2 38.0 316.0 40.0C325.8 42.0 334.3 43.7 341.0 46.0C347.7 48.3 352.8 51.3 356.0 54.0C359.2 56.7 359.7 56.3 360.0 62.0C360.3 67.7 358.5 77.5 358.0 88.0C357.5 98.5 356.2 114.7 357.0 125.0C357.8 135.3 361.5 145.0 363.0 150.0C364.5 155.0 363.8 152.2 366.0 155.0C368.2 157.8 373.3 163.3 376.0 167.0C378.7 170.7 378.5 174.2 382.0 177.0C385.5 179.8 391.7 183.5 397.0 184.0C402.3 184.5 409.8 180.8 414.0 180.0C418.2 179.2 418.7 179.3 422.0 179.0C425.3 178.7 429.0 177.7 434.0 178.0C439.0 178.3 446.5 178.8 452.0 181.0C457.5 183.2 462.0 188.0 467.0 191.0C472.0 194.0 477.0 197.7 482.0 199.0C487.0 200.3 491.7 200.2 497.0 199.0C502.3 197.8 508.2 195.2 514.0 192.0C519.8 188.8 526.5 184.2 532.0 180.0C537.5 175.8 542.8 171.2 547.0 167.0C551.2 162.8 553.8 159.5 557.0 155.0C560.2 150.5 563.7 146.3 566.0 140.0C568.3 133.7 570.2 124.5 571.0 117.0C571.8 109.5 571.3 102.0 571.0 95.0C570.7 88.0 570.2 81.3 569.0 75.0C567.8 68.7 566.0 63.3 564.0 57.0C562.0 50.7 559.7 43.7 557.0 37.0C554.3 30.3 551.8 22.8 548.0 17.0C544.2 11.2 536.3 4.5 534.0 2.0"/><path d="M467.0 2.0C465.2 4.5 459.0 11.2 456.0 17.0C453.0 22.8 450.7 30.3 449.0 37.0C447.3 43.7 447.8 50.7 446.0 57.0C444.2 63.3 440.2 68.7 438.0 75.0C435.8 81.3 434.3 88.0 433.0 95.0C431.7 102.0 430.0 110.8 430.0 117.0C430.0 123.2 430.7 127.8 433.0 132.0C435.3 136.2 439.2 139.0 444.0 142.0C448.8 145.0 457.3 147.8 462.0 150.0C466.7 152.2 467.8 153.3 472.0 155.0C476.2 156.7 482.0 159.0 487.0 160.0C492.0 161.0 496.2 161.2 502.0 161.0C507.8 160.8 516.7 160.0 522.0 159.0C527.3 158.0 530.3 157.3 534.0 155.0C537.7 152.7 541.8 149.2 544.0 145.0C546.2 140.8 547.3 135.5 547.0 130.0C546.7 124.5 544.3 117.8 542.0 112.0C539.7 106.2 534.8 101.2 533.0 95.0C531.2 88.8 532.2 81.3 531.0 75.0C529.8 68.7 528.5 63.3 526.0 57.0C523.5 50.7 518.8 43.7 516.0 37.0C513.2 30.3 512.3 22.8 509.0 17.0C505.7 11.2 498.2 4.5 496.0 2.0"/><path d="M466.6 616.0C466.6 609.2 466.3 585.7 466.6 575.0C466.9 564.3 467.7 557.8 468.5 552.0C469.3 546.2 470.2 543.7 471.5 540.0C472.8 536.3 473.4 533.8 476.0 530.0C478.6 526.2 482.3 521.2 487.0 517.0C491.7 512.8 498.7 509.2 504.0 505.0C509.3 500.8 514.3 496.2 519.0 492.0C523.7 487.8 527.8 483.5 532.0 480.0C536.2 476.5 539.5 473.2 544.0 471.0C548.5 468.8 554.2 467.8 559.0 467.0C563.8 466.2 568.8 466.0 573.0 466.0C577.2 466.0 578.0 466.3 584.0 467.0C590.0 467.7 600.7 468.3 609.0 470.0C617.3 471.7 626.5 473.7 634.0 477.0C641.5 480.3 647.7 485.0 654.0 490.0C660.3 495.0 667.0 501.2 672.0 507.0C677.0 512.8 680.3 519.2 684.0 525.0C687.7 530.8 691.0 536.2 694.0 542.0C697.0 547.8 698.7 554.2 702.0 560.0C705.3 565.8 709.8 571.7 714.0 577.0C718.2 582.3 723.2 587.5 727.0 592.0C730.8 596.5 734.0 600.0 737.0 604.0C740.0 608.0 743.7 614.0 745.0 616.0"/><path d="M585.0 616.0C586.3 614.2 590.2 607.7 593.0 605.0C595.8 602.3 597.2 601.0 602.0 600.0C606.8 599.0 615.3 598.3 622.0 599.0C628.7 599.7 637.3 601.2 642.0 604.0C646.7 606.8 648.7 614.0 650.0 616.0"/><path d="M325.0 2.0C326.0 2.2 328.5 2.6 331.0 3.0C333.5 3.4 336.5 4.2 340.0 4.4C343.5 4.6 347.8 4.6 352.0 4.4C356.2 4.2 361.5 3.4 365.0 3.0C368.5 2.6 371.7 2.2 373.0 2.0"/><path d="M93.0 71.2C93.9 71.8 95.2 73.9 96.0 76.0C96.8 78.1 97.5 81.5 97.7 84.0C98.0 86.5 98.1 88.8 97.5 91.0C96.9 93.2 95.4 95.5 94.0 97.0C92.6 98.5 90.6 99.5 89.0 99.7C87.4 100.0 85.6 99.6 84.5 98.5C83.4 97.4 82.7 95.4 82.3 93.0C81.9 90.6 81.9 86.8 82.0 84.0C82.1 81.2 82.2 78.3 83.0 76.5C83.8 74.7 85.2 74.0 86.5 73.3C87.8 72.6 89.4 72.9 90.5 72.6C91.6 72.2 92.1 70.6 93.0 71.2Z"/></g>
<g fill="none" stroke="#0a0c22" stroke-opacity=".66" stroke-width="1.95" stroke-linejoin="round"><path d="M273.5 34.0L272.0 40.0L266.0 46.0L260.0 52.0L258.0 62.0"/><path d="M235.0 74.0L241.0 82.0L253.0 84.0L256.0 92.0L252.0 102.0L237.0 115.0L241.0 125.0L251.0 132.0L263.0 142.0L268.0 155.0L278.0 160.0L286.0 159.0L308.0 161.0L321.0 169.0L341.0 166.0L361.0 172.0L376.0 175.0L382.0 180.0L375.0 187.0L378.0 200.0L382.0 210.0"/><path d="M557.0 25.0L562.0 32.0L568.0 35.0L567.0 42.0L554.0 45.0L544.0 52.0L532.0 57.0L534.0 65.0L544.0 72.0L546.0 85.0L549.0 92.0L537.0 96.0L533.0 105.0L531.0 115.0L522.0 120.0L517.0 130.0L509.0 131.0L504.0 126.0L487.0 129.0L487.0 137.0L498.0 141.0L492.0 149.0L482.0 142.0L477.0 136.0L472.0 144.0L472.0 155.0L469.0 155.0L462.0 165.0L459.0 172.0L449.0 174.0L442.0 179.0L434.0 179.0L438.0 190.0L434.0 199.0L419.0 207.0L409.0 204.0L402.0 212.0L394.0 217.0L401.0 224.0L392.0 229.0L387.0 217.0L382.0 210.0"/><path d="M419.0 207.0L427.0 217.0L424.0 230.0L428.0 241.0L438.0 247.0L442.0 260.0L444.0 270.0L442.0 285.0L449.0 295.0L457.0 301.0L467.0 291.0L477.0 292.0L481.0 295.0L473.0 310.0L469.0 311.0L487.0 327.0L491.0 337.0L499.0 344.0L517.0 355.0L532.0 364.0L538.0 374.0L546.0 391.0L538.0 412.0L552.0 417.0L563.0 426.0L569.0 442.0L557.0 457.0L554.0 465.0L557.0 475.0L562.0 490.0L568.0 502.0L573.0 505.0"/><path d="M444.0 270.0L456.0 271.0L457.0 261.0L469.0 256.0L489.0 267.0L497.0 255.0L504.0 251.0L506.0 237.0L514.0 241.0L532.0 234.0L541.0 235.0L542.0 250.0L546.0 260.0L542.0 270.0L552.0 277.0L573.0 285.0"/><path d="M572.0 36.0L582.0 35.0L589.0 42.0L597.0 54.0L612.0 57.0L621.0 52.0L623.0 44.0L632.0 45.0L638.0 54.0L644.0 56.0L647.0 45.0L653.0 37.0L652.0 32.0L659.0 31.0L671.0 32.0L676.0 40.0L679.0 52.0L684.0 67.0L678.0 71.0L682.0 80.0L677.0 95.0L671.0 109.0L682.0 117.0L688.0 122.0L687.0 130.0L682.0 135.0L672.0 136.0L669.0 144.0L677.0 150.0L684.0 154.0L687.0 165.0L684.0 177.0L692.0 190.0L702.0 199.0L711.0 206.0L704.0 215.0L712.0 222.0L724.0 229.0L734.0 226.0L744.0 227.0L754.0 235.0L760.0 240.0"/><path d="M760.0 242.0L752.0 255.0L744.0 262.0L742.0 272.0L732.0 279.0L729.0 287.0L714.0 295.0L699.0 302.0L689.0 307.0L689.0 310.0L684.0 320.0L672.0 325.0L668.0 335.0L661.0 340.0L651.0 340.0L647.0 332.0L634.0 330.0L623.0 314.0L626.0 310.0L627.0 302.0L622.0 290.0L614.0 284.0L604.0 275.0L601.0 262.0L584.0 262.0L572.0 266.0L574.0 277.0L572.0 284.0"/><path d="M573.0 519.0L561.0 512.0L549.0 516.0L537.0 525.0L536.0 536.0L522.0 531.0L506.0 521.0L499.0 535.0L494.0 544.0L484.0 539.0L474.0 540.0L462.0 531.0L444.0 517.0L436.0 502.0L431.0 482.0L423.0 469.0L417.0 474.0L399.0 470.0L392.0 496.0L382.0 495.0L378.5 492.5L363.5 505.0L346.0 514.0L340.0 504.0L353.5 480.0L346.0 471.0L333.5 465.0"/><path d="M573.0 586.0L557.0 587.0L544.0 594.0L542.0 600.0L549.0 604.0"/><path d="M572.0 519.0L581.0 526.0L577.0 534.0L584.0 547.0L583.0 557.0L572.0 565.0"/><path d="M658.0 604.0L657.0 580.0L672.0 561.0L682.0 565.0L697.0 561.0L699.0 556.0L712.0 554.0L724.0 561.0L734.0 556.0L747.0 549.0L749.0 540.0L744.0 535.0L747.0 527.0L742.0 515.0L744.0 505.0L752.0 499.0L758.0 497.0L759.0 505.0"/><path d="M200.0 172.0L210.0 172.0L223.0 176.0L228.0 187.0L233.0 197.0L237.0 212.0L228.0 216.0L215.0 217.0L211.0 227.0L216.0 242.0L203.0 241.0L191.0 235.0"/><path d="M235.0 277.0L248.0 272.0L263.0 262.0L275.0 264.0L283.0 260.0L293.0 266.0L301.0 280.0L313.0 291.0L326.0 294.0L331.0 302.0L343.0 302.0L346.0 310.0L351.0 324.0L341.0 326.0L331.0 335.0L320.0 346.0L313.5 350.0L308.5 360.0L293.5 370.0L280.0 364.0L283.5 356.0L276.0 349.0L266.0 356.0L258.5 355.0L243.5 360.0L242.0 345.0L247.0 334.0L248.5 320.0L241.0 310.0L235.0 300.0L237.0 290.0L235.0 277.0"/><path d="M107.5 285.0L122.5 284.0L130.0 277.5L145.0 279.0L160.0 276.0L167.5 280.0L175.0 265.0L185.0 255.0L191.0 249.0L203.0 241.0"/><path d="M107.5 285.0L111.0 300.0L109.0 310.0L110.0 310.0L104.0 319.0L95.0 311.0L86.0 321.0L80.0 325.0L69.0 334.0L75.0 342.5L65.0 344.0L57.5 350.0L49.0 342.5L39.0 334.0L37.5 326.0L24.0 319.0L22.5 329.0L12.5 332.5L4.5 329.0"/><path d="M4.5 410.0L12.5 407.5L17.5 415.0L25.0 424.0L32.5 427.5L32.5 445.0L29.0 452.5L32.5 465.0L34.0 477.5L27.5 485.0L32.5 500.0L37.5 511.0L42.5 510.0L32.5 519.0L27.5 531.0L19.0 542.5L25.0 552.5L29.0 565.0L24.0 574.0L26.0 585.0L25.0 602.5L27.5 614.0L40.0 610.0L55.0 597.5L59.0 605.0L72.5 612.5L85.0 604.0L89.0 610.0L107.5 609.0L117.5 604.0L127.5 605.0L132.5 595.0L139.0 601.0L151.0 599.0L165.0 610.0L180.0 595.0L186.0 592.5L187.5 585.0L191.0 582.5L202.0 576.0L210.0 587.5L216.0 590.0L216.0 582.5L232.0 580.0"/><path d="M4.5 525.0L16.0 521.0L27.5 531.0"/><path d="M216.0 590.0L206.0 602.5L196.0 610.0"/><path d="M167.5 280.0L168.5 284.7L175.7 306.0L184.0 313.2L191.0 325.0L194.7 337.0L186.4 346.5L197.0 363.0L211.3 382.0L217.3 391.7L220.8 401.0L231.5 404.7L228.5 417.5L221.0 435.0L218.5 450.0L221.0 465.0L226.0 487.5L241.0 502.5L246.0 515.0L243.5 537.5L245.0 552.5L236.0 572.5L232.0 590.0L238.5 602.5L245.0 615.0"/><path d="M241.0 502.5L242.0 492.5L261.0 497.5L275.0 504.0L282.0 499.0L283.5 491.0L293.5 487.5L301.0 480.0L313.5 481.0L322.0 466.0L333.5 465.0"/></g>
<path d="M4.0 198.0L37.0 200.0L50.0 197.0L67.0 190.0L100.0 186.0L130.0 183.0L142.0 185.0L150.0 189.0L156.3 191.2L166.9 190.5L177.5 183.8L190.2 169.8L202.9 166.8L192.0 160.0L181.7 150.0L181.3 143.6L182.8 125.0L183.8 112.0L181.5 108.7L184.9 102.4L194.4 100.3L200.7 85.5L207.1 79.1L234.6 72.8L253.6 67.5L277.0 65.8L290.0 66.0L306.0 69.0L320.0 70.0L331.0 62.0L338.0 60.0L382.0 56.0L392.0 49.0L393.0 37.0L397.0 22.0L402.0 10.0L419.0 4.0L439.0 2.0L449.0 10.0L464.0 10.0L474.0 13.0L476.0 25.0L477.0 32.0L489.0 30.0L499.0 34.0L509.0 41.0L519.0 40.0L532.0 30.0L547.0 22.0L562.0 16.0L573.0 9.0L576.0 2.0" fill="none" stroke="#161616" stroke-width="3.7" stroke-linejoin="round" stroke-linecap="round"/>
</g>
<rect x="34.00" y="671" width="31.92" height="18.7" fill="#dcdcfa"/><rect x="65.62" y="671" width="31.92" height="18.7" fill="#a9a9cd"/><rect x="97.24" y="671" width="31.92" height="18.7" fill="#78b9ff"/><rect x="128.85" y="671" width="31.92" height="18.7" fill="#3c96ff"/><rect x="160.47" y="671" width="31.92" height="18.7" fill="#0a82ff"/><rect x="192.09" y="671" width="31.92" height="18.7" fill="#0069d7"/><rect x="223.71" y="671" width="31.92" height="18.7" fill="#0050a5"/><rect x="255.33" y="671" width="31.92" height="18.7" fill="#00307f"/><rect x="286.95" y="671" width="31.92" height="18.7" fill="#4a0082"/><rect x="318.56" y="671" width="31.92" height="18.7" fill="#640082"/><rect x="350.18" y="671" width="31.92" height="18.7" fill="#8c00be"/><rect x="381.80" y="671" width="31.92" height="18.7" fill="#be00fa"/><rect x="413.42" y="671" width="31.92" height="18.7" fill="#c832fa"/><rect x="445.04" y="671" width="31.92" height="18.7" fill="#e6a0fa"/><rect x="476.65" y="671" width="31.92" height="18.7" fill="#f0c8fa"/><rect x="508.27" y="671" width="31.92" height="18.7" fill="#faafc8"/><rect x="539.89" y="671" width="31.92" height="18.7" fill="#ff9696"/><rect x="571.51" y="671" width="31.92" height="18.7" fill="#ff6464"/><rect x="603.13" y="671" width="31.92" height="18.7" fill="#dc0a3c"/><rect x="634.75" y="671" width="31.92" height="18.7" fill="#b90000"/><rect x="666.36" y="671" width="31.92" height="18.7" fill="#a00000"/><rect x="697.98" y="671" width="31.92" height="18.7" fill="#870000"/><path d="M729.6 671 L762 680.4 L729.6 689.7 Z" fill="#500000"/><path d="M34.0 671 L3.5 680.4 L34.0 689.7 Z" fill="#f8f8f8" stroke="#000" stroke-width="1"/><path d="M34.0 671.5 H729.6 M34.0 689.2 H729.6" stroke="#000" stroke-width="1" fill="none"/><path d="M34.5 671 V689.7M66.5 671 V689.7M97.5 671 V689.7M129.5 671 V689.7M160.5 671 V689.7M192.5 671 V689.7M224.5 671 V689.7M255.5 671 V689.7M287.5 671 V689.7M319.5 671 V689.7M350.5 671 V689.7M382.5 671 V689.7M413.5 671 V689.7M445.5 671 V689.7M477.5 671 V689.7M508.5 671 V689.7M540.5 671 V689.7M572.5 671 V689.7M603.5 671 V689.7M635.5 671 V689.7M666.5 671 V689.7M698.5 671 V689.7M730.5 671 V689.7" stroke="#000" stroke-width="1" stroke-dasharray="4 3.3" fill="none"/>
</svg>
<span class="cl" style="left:293.5px;top:168.1px">10</span><span class="cl" style="left:417px;top:172.3px">15</span><span class="cl" style="left:483.2px;top:155.3px">20</span><span class="cl" style="left:569.5px;top:459.9px">15</span>
<div style="position:absolute;left:0;top:0;width:760px;height:616px;overflow:hidden"><span class="lb" style="left:4.0px;top:88.5px;font-size:10.5px;letter-spacing:0.789px">é Zámky</span><span class="lb" style="left:5.0px;top:185.9px;font-size:10.5px;letter-spacing:1.161px">árno</span><span class="lb" style="left:152.0px;top:172.5px;font-size:10.5px;letter-spacing:0.977px">Esztergom</span><span class="lb" style="left:299.0px;top:49.5px;font-size:10.5px;letter-spacing:0.285px">Balassagyarmat</span><span class="lb" style="left:453.0px;top:42.0px;font-size:10.5px;letter-spacing:0.838px">Salgótarján</span><span class="lb" style="left:636.5px;top:124.5px;font-size:10.5px;letter-spacing:0.438px">Eger</span><span class="lb" style="left:744.5px;top:46.4px;font-size:10.5px;letter-spacing:0.800px">Mis</span><span class="lb" style="left:282.0px;top:176.4px;font-size:10.5px;letter-spacing:0.453px">Vác</span><span class="lb" style="left:494.5px;top:175.5px;font-size:10.5px;letter-spacing:0.746px">Gyöngyös</span><span class="lb" style="left:47.5px;top:229.9px;font-size:10.5px;letter-spacing:1.214px">Tata</span><span class="lb" style="left:54.0px;top:258.5px;font-size:10.5px;letter-spacing:0.941px">Tatabánya</span><span class="lb" style="left:264.0px;top:238.4px;font-size:10.5px;letter-spacing:0.871px">Dunakeszi</span><span class="lb" style="left:335.5px;top:249.9px;font-size:10.5px;letter-spacing:0.799px">Gödöllő</span><span class="lb" style="left:429.0px;top:221.9px;font-size:10.5px;letter-spacing:0.844px">Hatvan</span><span class="lb" style="left:609.5px;top:253.9px;font-size:10.5px;letter-spacing:-0.066px">Heves</span><span class="lb" style="left:730.0px;top:246.9px;font-size:10.5px;letter-spacing:0.475px">Tiszaf</span><span class="lb" style="left:486.0px;top:292.5px;font-size:10.5px;letter-spacing:0.589px">Jászberény</span><span class="lb" style="left:238.3px;top:301.2px;font-size:13px;letter-spacing:0.209px">Budapest</span><span class="lb" style="left:246.0px;top:325.9px;font-size:10.5px;letter-spacing:0.648px">Budaörs</span><span class="lb" style="left:312.0px;top:333.4px;font-size:10.5px;letter-spacing:0.628px">Vecsés</span><span class="lb" style="left:224.0px;top:347.9px;font-size:10.5px;letter-spacing:0.328px">Érd</span><span class="lb" style="left:270.5px;top:360.5px;font-size:10.5px;letter-spacing:0.842px">Szigetszentmiklós</span><span class="lb" style="left:19.5px;top:348.9px;font-size:10.5px;letter-spacing:-0.047px">Mór</span><span class="lb" style="left:44.5px;top:425.4px;font-size:10.5px;letter-spacing:0.811px">Székesfehérvár</span><span class="lb" style="left:332.0px;top:433.4px;font-size:10.5px;letter-spacing:-0.090px">Dabas</span><span class="lb" style="left:464.5px;top:433.5px;font-size:10.5px;letter-spacing:0.744px">Cegléd</span><span class="lb" style="left:576.5px;top:431.4px;font-size:10.5px;letter-spacing:0.690px">Szolnok</span><span class="lb" style="left:662.0px;top:431.4px;font-size:10.5px;letter-spacing:0.886px">Törökszentmiklós</span><span class="lb" style="left:451.5px;top:489.5px;font-size:10.5px;letter-spacing:0.787px">Nagykőrös</span><span class="lb" style="left:419.4px;top:552.4px;font-size:11.8px;letter-spacing:1.180px">Kecskemét</span><span class="lb" style="left:542.0px;top:536.4px;font-size:10.5px;letter-spacing:0.061px">Tiszakécske</span><span class="lb" style="left:701.5px;top:506.9px;font-size:10.5px;letter-spacing:0.344px">Mezőtúr</span><span class="lb" style="left:203.5px;top:520.0px;font-size:10.5px;letter-spacing:0.905px">Dunaújváros</span><span class="lb" style="left:120.0px;top:554.0px;font-size:10.5px;letter-spacing:0.244px">Sárbogárd</span></div>
<svg style="position:absolute;left:0;top:0" width="763" height="620" viewBox="0 0 763 620"><defs><clipPath id="cp2"><rect x="4" y="2" width="756" height="614"/></clipPath></defs><g clip-path="url(#cp2)" fill="#e2e2e2" stroke="#1e1e1e" stroke-width="1.1"><rect x="12.5" y="99.5" width="5" height="5"/><rect x="3.5" y="196.5" width="5" height="5"/><rect x="176.5" y="184.5" width="5" height="5"/><rect x="335.5" y="60.5" width="5" height="5"/><rect x="480.5" y="52.5" width="5" height="5"/><rect x="645.5" y="135.5" width="5" height="5"/><rect x="288.5" y="187.5" width="5" height="5"/><rect x="518.5" y="186.5" width="5" height="5"/><rect x="56.5" y="241.5" width="5" height="5"/><rect x="79.5" y="269.5" width="5" height="5"/><rect x="289.5" y="249.5" width="5" height="5"/><rect x="352.5" y="260.5" width="5" height="5"/><rect x="445.5" y="234.5" width="5" height="5"/><rect x="621.5" y="264.5" width="5" height="5"/><rect x="753.5" y="256.5" width="5" height="5"/><rect x="513.5" y="304.5" width="5" height="5"/><rect x="239.5" y="322.5" width="5" height="5"/><rect x="327.5" y="343.5" width="5" height="5"/><rect x="229.5" y="357.5" width="5" height="5"/><rect x="262.5" y="370.5" width="5" height="5"/><rect x="25.5" y="359.5" width="5" height="5"/><rect x="83.5" y="436.5" width="5" height="5"/><rect x="344.5" y="444.5" width="5" height="5"/><rect x="480.5" y="444.5" width="5" height="5"/><rect x="594.5" y="443.5" width="5" height="5"/><rect x="655.5" y="441.5" width="5" height="5"/><rect x="477.5" y="501.5" width="5" height="5"/><rect x="568.5" y="546.5" width="5" height="5"/><rect x="718.5" y="516.5" width="5" height="5"/><rect x="234.5" y="531.5" width="5" height="5"/><rect x="143.5" y="564.5" width="5" height="5"/><rect x="136.5" y="0.5" width="5" height="5"/><rect x="623.5" y="0.5" width="5" height="5"/></g></svg>
<div class="btn" style="left:6px;width:34px"></div>
<div class="btn" style="left:44px;width:32px"></div>
<div class="btn" style="left:79px;width:34px"></div>
<div class="btn" style="left:117px;width:32px"></div>
<div class="btn" style="left:724px;width:34px;top:4px;height:31px"></div>
<div class="mb" style="left:189px;width:28px;background:#f5305a">EZ</div>
<div class="mb" style="left:221px;width:35px;background:#007bff">GFS</div>
<div class="mb" style="left:260px;width:38px;background:#007bff">GEM</div>
<svg style="position:absolute;left:0;top:0" width="763" height="40" viewBox="0 0 763 40">
<!-- refresh -->
<path d="M27.6 15.2 A5.3 5.3 0 1 0 28.2 19.3" fill="none" stroke="#2b2b2b" stroke-width="1.8"/>
<path d="M24.6 16.3 L28.7 16.3 L28.7 12 Z" fill="#2b2b2b"/>
<!-- globe -->
<circle cx="60.1" cy="19.6" r="8.8" fill="#2c3e50"/>
<path d="M54.5 12.9 L58.5 11.9 L60.7 12.4 L59.7 14.9 L57.6 17.3 L56.6 19.1 L54.9 18.7 L54.2 21.1 L53.5 17 Z" fill="#fff"/>
<ellipse cx="55.6" cy="23.5" rx="0.75" ry="1.8" fill="#fff"/>
<path d="M60 19.7 L61.7 18.4 L64.2 19.7 L66.2 20.8 L65.2 22.8 L63.5 24.6 L62.1 25.6 L61.4 23.5 L60 21.8 Z" fill="#fff"/>
<path d="M65 19.3 L62.4 15.5 A3.5 3.5 0 1 1 67.6 15.5 Z" fill="#2a93ff" stroke="#fff" stroke-width="1.1" paint-order="stroke"/>
<circle cx="65" cy="13.3" r="2.1" fill="#fff"/>
<!-- zoom out -->
<circle cx="95.4" cy="16.9" r="4.4" fill="#fff" stroke="#2b2b2b" stroke-width="1.7"/>
<path d="M93.3 16.9 H97.5" stroke="#2b2b2b" stroke-width="1.7"/>
<path d="M98.6 20.1 L102 23.4" stroke="#2b2b2b" stroke-width="2.2" stroke-linecap="round"/>
<!-- CITY -->
<text x="132.9" y="17.9" font-family="Liberation Serif, serif" font-size="6.5" text-anchor="middle" fill="#7a7a86" textLength="16.6" lengthAdjust="spacingAndGlyphs">CITY</text>
<text x="132.9" y="25.9" font-family="Liberation Serif, serif" font-size="6.5" text-anchor="middle" fill="#8a8a90" textLength="16.6" lengthAdjust="spacingAndGlyphs">CITY</text>
<path d="M123.8 22.7 H142.2" stroke="#222" stroke-width="1.5"/>
<!-- share -->
<path d="M741.5 12.7 H736.6 a2.1 2.1 0 0 0 -2.1 2.1 V24 a2.1 2.1 0 0 0 2.1 2.1 H746.2 a2.1 2.1 0 0 0 2.1 -2.1 V21.8" fill="none" stroke="#333" stroke-width="2.5"/>
<path d="M745 11.6 L750.8 16.3 L745 21 V18 C742.8 18 741 18.6 739.8 20 C740.2 17 742 14.9 745 14.6 Z" fill="#333"/>
</svg>
<div id="attr"></div>
<div class="f" id="title" style="left:19.4px;top:639.05px;font-size:21.8px;font-weight:bold;color:#333;transform:scaleX(1.0793)">Snow depth (cm)</div>
<div class="f" id="valid" style="left:705.8px;top:633.85px;font-size:14px;font-weight:normal;color:#4a4a4a;transform:scaleX(0.8445)">Valid for</div>
<div class="f" id="vdate" style="left:579.6px;top:649.05px;font-size:14px;font-weight:normal;color:#4a4a4a;transform:scaleX(0.9076)">Fri 03/27/2020, 01:00am CET</div>
<div class="f" id="pest" style="left:18.6px;top:719.05px;font-size:14px;font-weight:normal;color:#555;transform:scaleX(0.9352)">Pest</div>
<div class="f" id="run1" style="left:19.2px;top:736.75px;font-size:14px;font-weight:normal;color:#555;transform:scaleX(0.8884)">ECMWF IFS HRES</div>
<div class="f" id="run2" style="left:133px;top:736.75px;font-size:14px;font-weight:normal;color:#555;transform:scaleX(1.0452)">(10 days)</div>
<div class="f" id="run3" style="left:201.7px;top:736.75px;font-size:14px;font-weight:normal;color:#555;transform:scaleX(1.1252)">from 03/19/2020/00z</div>
<div class="f" id="ecm" style="left:566.1px;top:744.77px;font-size:9.6px;font-weight:bold;color:#24479d;transform:scaleX(0.9604)">ECMWF</div>
<div class="f" id="mlx" style="left:634.9px;top:728.88px;font-size:15.5px;font-weight:bold;color:#111;transform:scaleX(0.9746)">meteologix.com</div>
<div class="f" id="mlxs" style="left:635px;top:744.48px;font-size:6.4px;font-weight:bold;color:#4a4a4a;transform:scaleX(0.8684)">SWISS QUALITY WEATHER FORECASTING</div>
<div class="f" id="attrt" style="left:278px;top:605.16px;font-size:9.5px;font-weight:normal;color:#fff;transform:scaleX(0.9454)">Kartenmaterial: Map data © OpenStreetMap contributors, rendering GIScience Research Group @ Heidelberg University</div>

<span class="ll" style="left:14.0px">0.1</span><span class="ll" style="left:45.6px">0.5</span><span class="ll" style="left:77.2px">1</span><span class="ll" style="left:108.9px">2</span><span class="ll" style="left:140.5px">3</span><span class="ll" style="left:172.1px">4</span><span class="ll" style="left:203.7px">5</span><span class="ll" style="left:235.3px">7</span><span class="ll" style="left:266.9px">10</span><span class="ll" style="left:298.6px">15</span><span class="ll" style="left:330.2px">20</span><span class="ll" style="left:361.8px">30</span><span class="ll" style="left:393.4px">40</span><span class="ll" style="left:425.0px">50</span><span class="ll" style="left:456.7px">60</span><span class="ll" style="left:488.3px">70</span><span class="ll" style="left:519.9px">80</span><span class="ll" style="left:551.5px">100</span><span class="ll" style="left:583.1px">150</span><span class="ll" style="left:614.7px">200</span><span class="ll" style="left:646.4px">250</span><span class="ll" style="left:678.0px">300</span><span class="ll" style="left:709.6px">400</span>
<svg style="position:absolute;left:560px;top:722px" width="80" height="35" viewBox="560 722 80 35">
<!-- ECMWF rings -->
<g fill="none" stroke="#1e409a" stroke-width="2.7">
<path d="M584.6 731.4 A4.3 4.25 0 1 0 584.6 737.8"/>
<path d="M590.2 731.6 A4.3 4.25 0 1 0 590.2 737.6"/>
</g>
<path d="M575.6 734.6 H579.2" stroke="#8fa3d4" stroke-width="0.9"/>
<path d="M566 755 H601" stroke="#c5cee6" stroke-width="1.6"/>
<!-- meteologix hex -->
<path d="M618.9 727.4 L630.6 734 V747.3 L618.9 753.9 L607.3 747.3 V734 Z" fill="#fff" stroke="#4aa3ff" stroke-width="1.5" stroke-linejoin="round"/>
<path d="M608 745.6 L612.5 741 L617.8 732.4 L620.5 735 L626 744 L630 742.5 V747 L618.9 753.3 L608 747 Z" fill="#5fb0ff"/>
<path d="M612.8 747.2 L620 739.5 L627.8 749 L618.9 753.5 Z" fill="#0a7cff"/>
<path d="M617.6 732.2 L620.4 733.4 L624.4 739 L628.8 746.2 L626.6 748.2 L621.2 741.8 L619 737.2 Z" fill="#2a3744"/>
</svg>
<svg style="position:absolute;left:216px;top:636px" width="26" height="26" viewBox="216 636 26 26"><circle cx="229.15" cy="648.3" r="10.05" fill="#007bff"/><path d="M227.15 641.8h3.55v2.9h-3.55zM225.4 647.1h5.3v4.9h2.2v1.8h-7.5v-1.8h1.75v-2.7h-1.75z" fill="#fff"/></svg>
</body></html>
